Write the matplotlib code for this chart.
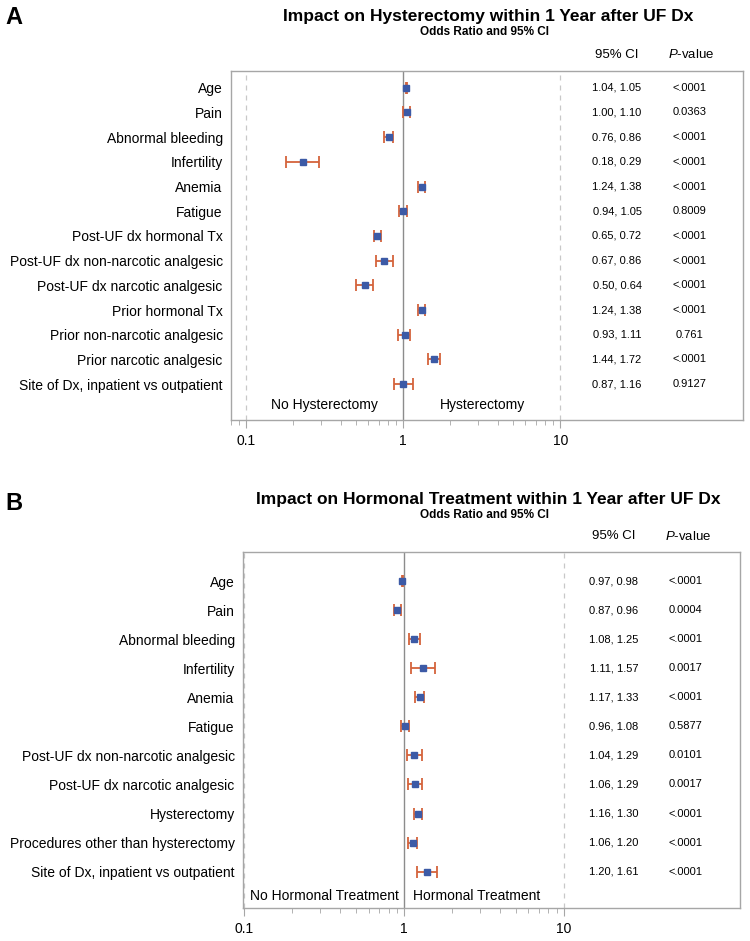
import matplotlib
matplotlib.use("Agg")
import matplotlib.pyplot as plt
from matplotlib.ticker import FixedLocator, NullFormatter
import numpy as np

plt.rcParams['font.family'] = ['Liberation Sans', 'DejaVu Sans']
plt.rcParams['mathtext.fontset'] = 'custom'
plt.rcParams['mathtext.rm'] = 'Liberation Sans'
plt.rcParams['mathtext.it'] = 'Liberation Sans:italic'

# Panel A - hysterectomy
labels_a = ["Age", "Pain", "Abnormal bleeding", "Infertility", "Anemia", "Fatigue",
            "Post-UF dx hormonal Tx", "Post-UF dx non-narcotic analgesic",
            "Post-UF dx narcotic analgesic", "Prior hormonal Tx",
            "Prior non-narcotic analgesic", "Prior narcotic analgesic",
            "Site of Dx, inpatient vs outpatient"]
or_a = [1.045, 1.05, 0.81, 0.23, 1.31, 0.99, 0.68, 0.76, 0.57, 1.31, 1.02, 1.57, 1.00]
lo_a = [1.04, 1.00, 0.76, 0.18, 1.24, 0.94, 0.65, 0.67, 0.50, 1.24, 0.93, 1.44, 0.87]
hi_a = [1.05, 1.10, 0.86, 0.29, 1.38, 1.05, 0.72, 0.86, 0.64, 1.38, 1.11, 1.72, 1.16]
p_a = ["<.0001", "0.0363", "<.0001", "<.0001", "<.0001", "0.8009", "<.0001",
       "<.0001", "<.0001", "<.0001", "0.761", "<.0001", "0.9127"]

# Panel B - hormonal treatment
labels_b = ["Age", "Pain", "Abnormal bleeding", "Infertility", "Anemia", "Fatigue",
            "Post-UF dx non-narcotic analgesic", "Post-UF dx narcotic analgesic",
            "Hysterectomy", "Procedures other than hysterectomy",
            "Site of Dx, inpatient vs outpatient"]
or_b = [0.975, 0.91, 1.16, 1.32, 1.25, 1.02, 1.16, 1.17, 1.23, 1.13, 1.39]
lo_b = [0.97, 0.87, 1.08, 1.11, 1.17, 0.96, 1.04, 1.06, 1.16, 1.06, 1.20]
hi_b = [0.98, 0.96, 1.25, 1.57, 1.33, 1.08, 1.29, 1.29, 1.30, 1.20, 1.61]
p_b = ["<.0001", "0.0004", "<.0001", "0.0017", "<.0001", "0.5877", "0.0101",
       "0.0017", "<.0001", "<.0001", "<.0001"]

BLUE = "#3c5aa6"
ORANGE = "#d4633c"
BOX = "#a6a6a6"

W, H = 750, 941
fig = plt.figure(figsize=(W / 100, H / 100), dpi=100)


def draw_panel(ax, labels, est, lo, hi, pvals, xlim, ylim, minors,
               side_txt, side_x, ci_x, p_x):
    est = np.array(est)
    lo = np.array(lo)
    hi = np.array(hi)
    y = np.arange(1, len(labels) + 1)

    ax.axvline(1, color="#8c8c8c", lw=1.0, zorder=1)
    for v in (0.1, 10):
        ax.axvline(v, color="#c8c8c8", lw=0.9, ls=(0, (4, 4)), zorder=1)

    ax.errorbar(est, y, xerr=[est - lo, hi - est], fmt="none", ecolor=ORANGE,
                elinewidth=1.3, capsize=4.5, capthick=1.3, zorder=2)
    ax.plot(est, y, "s", color=BLUE, ms=5, zorder=3)

    ax.set_xscale("log")
    ax.set_xlim(*xlim)
    ax.set_ylim(*ylim)
    ax.set_yticks(y)
    ax.set_yticklabels(labels, fontsize=10)
    ax.tick_params(axis="y", length=0, pad=6)
    ax.xaxis.set_major_locator(FixedLocator([0.1, 1, 10]))
    ax.set_xticklabels(["0.1", "1", "10"], fontsize=10)
    ax.xaxis.set_minor_locator(FixedLocator(minors))
    ax.xaxis.set_minor_formatter(NullFormatter())
    ax.tick_params(axis="x", which="major", length=6, color=BOX, pad=4)
    ax.tick_params(axis="x", which="minor", length=3.5, color=BOX)
    for s in ax.spines.values():
        s.set_color(BOX)
        s.set_linewidth(1.0)

    tr = ax.get_yaxis_transform()
    for yi, l, h, p in zip(y, lo, hi, pvals):
        ax.text(ci_x, yi, f"{l:.2f}, {h:.2f}", transform=tr, ha="center",
                va="center", fontsize=8)
        ax.text(p_x, yi, p, transform=tr, ha="center", va="center", fontsize=8)

    label_y = len(labels) + 0.85
    ax.text(side_x[0], label_y, side_txt[0], ha="center", va="center", fontsize=10)
    ax.text(side_x[1], label_y, side_txt[1], ha="center", va="center", fontsize=10)


# ---- Panel A
axA = fig.add_axes([231 / W, 1 - 420 / H, 512 / W, 349 / H])
draw_panel(axA, labels_a, or_a, lo_a, hi_a, p_a,
           xlim=(0.08, 146), ylim=(14.45, 0.32),
           minors=[0.08, 0.09] + [i / 10 for i in range(2, 10)] + list(range(2, 10)),
           side_txt=("No Hysterectomy", "Hysterectomy"), side_x=(0.316, 3.2),
           ci_x=0.754, p_x=0.896)

fig.text(14 / W, 1 - 18 / H, "A", fontsize=17, fontweight="bold",
         ha="center", va="center")
fig.text(488 / W, 1 - 17 / H, "Impact on Hysterectomy within 1 Year after UF Dx",
         fontsize=12.5, fontweight="bold", ha="center", va="center")
fig.text(484 / W, 1 - 32 / H, "Odds Ratio and 95% CI", fontsize=8.5,
         fontweight="bold", ha="center", va="center")
fig.text(617 / W, 1 - 55 / H, "95% CI", fontsize=9.5, ha="center", va="center")
fig.text(691 / W, 1 - 55 / H, r"$\mathit{P}$-value", fontsize=9.5,
         ha="center", va="center")

# ---- Panel B
axB = fig.add_axes([243 / W, 1 - 908 / H, 497 / W, 356 / H])
draw_panel(axB, labels_b, or_b, lo_b, hi_b, p_b,
           xlim=(0.0985, 126), ylim=(12.25, 0.0),
           minors=[i / 10 for i in range(2, 10)] + list(range(2, 10)),
           side_txt=("No Hormonal Treatment", "Hormonal Treatment"),
           side_x=(0.32, 2.85), ci_x=0.746, p_x=0.891)

fig.text(14 / W, 1 - 503 / H, "B", fontsize=17, fontweight="bold",
         ha="center", va="center")
fig.text(488 / W, 1 - 500 / H, "Impact on Hormonal Treatment within 1 Year after UF Dx",
         fontsize=12.5, fontweight="bold", ha="center", va="center")
fig.text(484 / W, 1 - 515 / H, "Odds Ratio and 95% CI", fontsize=8.5,
         fontweight="bold", ha="center", va="center")
fig.text(614 / W, 1 - 536 / H, "95% CI", fontsize=9.5, ha="center", va="center")
fig.text(688 / W, 1 - 536 / H, r"$\mathit{P}$-value", fontsize=9.5,
         ha="center", va="center")

fig.savefig("out.png", dpi=100)
